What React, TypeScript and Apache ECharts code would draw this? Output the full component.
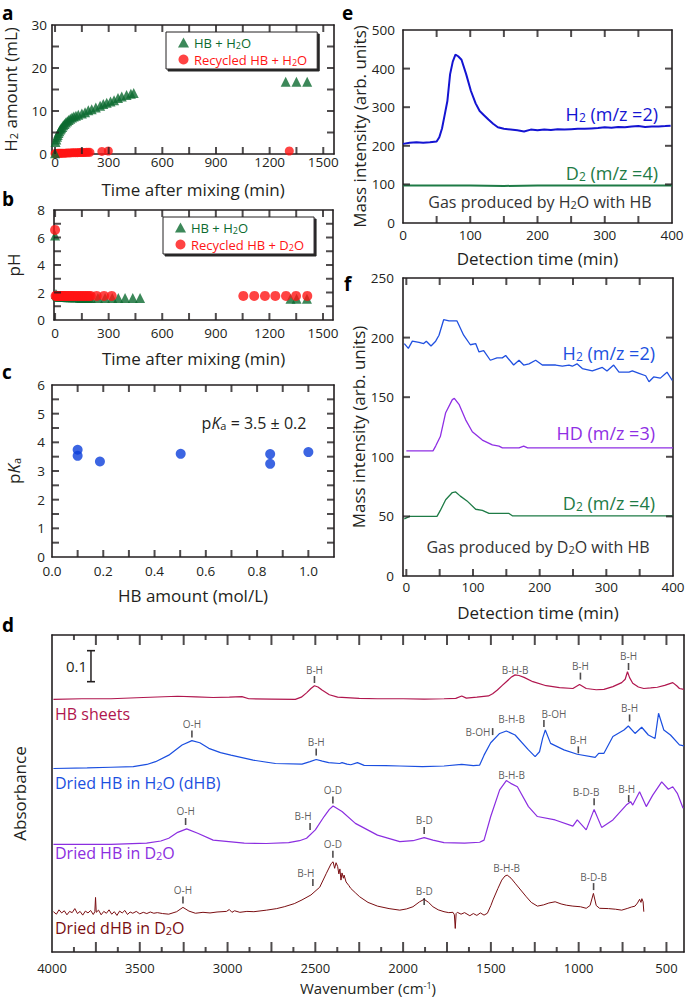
import React, { useEffect, useRef } from "react";
import * as echarts from "echarts";

const FONT = "'Open Sans', 'Noto Sans', sans-serif";
const INK = "#231f20";
const GREEN = "#0b6a2f";
const RED = "#ff1414";
const BLUE_C = "#0b3fdb";
const E_BLUE = "#1414d2";
const F_BLUE = "#2050e0";
const PURPLE = "#8f2fe4";
const LGREEN = "#1e7b46";
const D_SHEETS = "#b0164e";
const D_DHB = "#1b4fe0";
const D_D2O = "#8b2ee0";
const D_DHBD2O = "#7a0e12";

// ---- panel a ----
const aGreenTime = [0, 3, 7, 11, 15, 19, 24, 29, 34, 40, 46, 53, 60, 68, 76, 85, 95, 105, 117, 130, 150, 168, 186, 205, 228, 252, 270, 289, 310, 330, 352, 373, 400, 424, 440, 1290, 1350, 1410];
const aGreenH2 = [0.2, 2.8, 3.4, 4.0, 4.4, 4.9, 5.3, 5.7, 6.0, 6.3, 6.7, 7.0, 7.3, 7.6, 7.9, 8.2, 8.5, 8.7, 8.9, 9.1, 9.4, 9.7, 10.2, 10.4, 10.8, 11.2, 11.6, 11.9, 12.2, 12.5, 13.0, 13.4, 13.7, 14.0, 14.2, 16.8, 16.8, 16.8];
const aRedTime = [0, 5, 10, 16, 22, 28, 35, 42, 50, 58, 66, 75, 85, 95, 105, 115, 125, 135, 145, 155, 165, 175, 185, 195, 262, 298, 1310];
const aRedH2 = [0.1, 0.1, 0.1, 0.15, 0.15, 0.15, 0.2, 0.2, 0.2, 0.2, 0.25, 0.25, 0.25, 0.3, 0.3, 0.3, 0.3, 0.35, 0.35, 0.35, 0.35, 0.4, 0.4, 0.4, 0.6, 0.7, 0.7];
const timeTicks = [0, 150, 300, 450, 600, 750, 900, 1050, 1200, 1350, 1500];
const timeLabels = [0, 300, 600, 900, 1200, 1500];
const h2Ticks = [5, 10, 15, 20, 25];
const h2Labels = [0, 10, 20, 30];

// ---- panel b ----
const bGreenTime = [0, 5, 10, 15, 20, 25, 30, 40, 50, 60, 70, 80, 90, 100, 110, 120, 130, 140, 150, 160, 170, 180, 190, 200, 240, 280, 320, 354, 392, 435, 476, 1318, 1352, 1410];
const bGreenPh = [6.15, 1.9, 1.8, 1.75, 1.7, 1.7, 1.7, 1.7, 1.7, 1.7, 1.65, 1.65, 1.65, 1.65, 1.65, 1.65, 1.65, 1.6, 1.6, 1.6, 1.6, 1.6, 1.6, 1.6, 1.6, 1.6, 1.6, 1.6, 1.6, 1.6, 1.6, 1.55, 1.55, 1.55];
const bRedTime = [0, 3, 8, 13, 18, 23, 28, 34, 40, 47, 54, 61, 68, 76, 84, 92, 100, 110, 120, 130, 140, 150, 160, 170, 180, 190, 200, 233, 274, 317, 1054, 1115, 1175, 1233, 1293, 1349, 1412];
const bRedPh = [6.55, 1.75, 1.75, 1.75, 1.75, 1.75, 1.75, 1.75, 1.75, 1.75, 1.75, 1.75, 1.75, 1.75, 1.75, 1.75, 1.75, 1.75, 1.75, 1.75, 1.75, 1.75, 1.75, 1.75, 1.75, 1.75, 1.75, 1.75, 1.75, 1.75, 1.75, 1.75, 1.75, 1.75, 1.75, 1.75, 1.75];
const phTicks = [1, 2, 3, 4, 5, 6, 7];
const phLabels = [0, 2, 4, 6, 8];

// ---- panel c ----
const cHbAmount = [0.1, 0.1, 0.187, 0.502, 0.851, 0.851, 1.0];
const cPka = [3.74, 3.53, 3.33, 3.6, 3.59, 3.25, 3.66];
const cXTicks = [0.1, 0.2, 0.3, 0.4, 0.5, 0.6, 0.7, 0.8, 0.9, 1.0];
const cXLabels = [0, 0.2, 0.4, 0.6, 0.8, 1.0];
const cYTicks = [0.5, 1, 1.5, 2, 2.5, 3, 3.5, 4, 4.5, 5, 5.5];
const cYLabels = [0, 1, 2, 3, 4, 5, 6];

// ---- panel e ----
const eH2Time = [0, 10, 20, 30, 40, 50, 54, 58, 62, 66, 70, 74, 78, 82, 87, 94, 101, 108, 114, 120, 127, 134, 141, 150, 160, 170, 180, 190, 200, 210, 220, 230, 240, 250, 260, 270, 280, 290, 300, 310, 320, 330, 340, 350, 360, 370, 380, 390, 398];
const eH2 = [205, 208, 209, 208, 209, 211, 222, 245, 280, 316, 385, 418, 436, 432, 423, 385, 342, 310, 290, 280, 268, 257, 248, 244, 242, 240, 237, 242, 240, 242, 241, 243, 242, 243, 244, 244, 245, 246, 248, 247, 249, 248, 250, 251, 249, 250, 250, 251, 252];
const eD2Time = [0, 50, 100, 150, 200, 250, 300, 350, 400];
const eD2 = [97, 97, 97, 96, 97, 97, 97, 97, 97];
const detTicks = [50, 100, 150, 200, 250, 300, 350];
const detLabels = [0, 100, 200, 300, 400];
const eYTicks = [100, 200, 300, 400];
const eYLabels = [0, 100, 200, 300, 400, 500];

// ---- panel f ----
const fH2Time = [-3, 3, 9, 19, 26, 30, 37, 44, 49, 56, 64, 76, 86, 96, 104, 109, 116, 126, 136, 144, 149, 161, 169, 176, 184, 194, 204, 224, 234, 244, 249, 256, 264, 279, 294, 301, 311, 319, 334, 339, 349, 359, 364, 371, 381, 391, 399];
const fH2 = [195, 191, 197, 196, 195, 197, 193, 197, 202, 215, 214, 214, 202, 194, 195, 188, 189, 181, 183, 183, 185, 177, 181, 177, 178, 181, 177, 177, 176, 177, 176, 178, 174, 172, 175, 172, 177, 171, 171, 172, 170, 168, 163, 167, 166, 171, 164];
const fHDTime = [0, 40, 44, 51, 59, 69, 72, 79, 89, 99, 114, 129, 139, 144, 169, 176, 182, 250, 320, 400];
const fHD = [105, 105, 109, 117, 137, 148, 149, 144, 131, 121, 114, 110, 109, 107.5, 107.5, 109, 107.5, 107.5, 107.5, 107.5];
const fD2Time = [-3, 5, 46, 51, 59, 69, 74, 81, 91, 104, 114, 124, 154, 159, 250, 400];
const fD2 = [48, 50, 50, 55, 64, 70, 70.5, 67, 63, 56, 55, 52.5, 52.5, 50.5, 50.5, 50.5];
const fXTicks = [0, 50, 100, 150, 200, 250, 300, 350];
const fYTicks = [50, 100, 150, 200];
const fYLabels = [0, 50, 100, 150, 200, 250];

// ---- panel d (wavenumber, absorbance offset) ----
const dSheetsWn = [3992, 3830, 3664, 3480, 3284, 3180, 3082, 2990, 2918, 2879, 2750, 2614, 2580, 2550, 2525, 2505, 2485, 2462, 2420, 2373, 2250, 2146, 2000, 1880, 1767, 1700, 1666, 1640, 1580, 1514, 1490, 1463, 1435, 1412, 1385, 1362, 1340, 1311, 1261, 1185, 1109, 1033, 995, 957, 900, 856, 805, 755, 735, 722, 710, 692, 660, 629, 590, 552, 510, 464, 440, 426, 401];
const dSheetsA = [0.815, 0.817, 0.817, 0.821, 0.825, 0.823, 0.821, 0.822, 0.824, 0.817, 0.816, 0.815, 0.822, 0.836, 0.85, 0.859, 0.855, 0.845, 0.83, 0.822, 0.818, 0.817, 0.817, 0.816, 0.817, 0.818, 0.826, 0.819, 0.822, 0.826, 0.833, 0.845, 0.86, 0.872, 0.886, 0.894, 0.892, 0.886, 0.872, 0.859, 0.853, 0.85, 0.863, 0.85, 0.846, 0.847, 0.856, 0.869, 0.88, 0.904, 0.885, 0.867, 0.855, 0.85, 0.852, 0.854, 0.86, 0.869, 0.858, 0.85, 0.847];
const dDhbWn = [3992, 3800, 3664, 3537, 3460, 3410, 3335, 3259, 3203, 3158, 3107, 3040, 2981, 2854, 2727, 2576, 2530, 2495, 2460, 2424, 2361, 2348, 2320, 2298, 2260, 2222, 2100, 2019, 1890, 1767, 1666, 1600, 1564, 1539, 1501, 1450, 1412, 1362, 1286, 1248, 1223, 1205, 1190, 1160, 1084, 1008, 906, 886, 856, 805, 742, 717, 679, 641, 603, 565, 545, 515, 477, 426, 401];
const dDhbA = [0.592, 0.594, 0.596, 0.598, 0.605, 0.614, 0.635, 0.668, 0.682, 0.675, 0.657, 0.643, 0.635, 0.619, 0.608, 0.606, 0.614, 0.621, 0.616, 0.611, 0.608, 0.611, 0.606, 0.604, 0.611, 0.602, 0.601, 0.6, 0.598, 0.6, 0.605, 0.601, 0.603, 0.635, 0.675, 0.705, 0.713, 0.7, 0.652, 0.63, 0.646, 0.69, 0.716, 0.673, 0.652, 0.638, 0.628, 0.641, 0.641, 0.695, 0.716, 0.729, 0.705, 0.725, 0.7, 0.689, 0.77, 0.716, 0.7, 0.668, 0.665];
const dD2oWn = [3992, 3664, 3461, 3380, 3335, 3284, 3233, 3170, 3082, 2905, 2780, 2652, 2590, 2550, 2500, 2450, 2420, 2399, 2348, 2272, 2146, 2019, 1944, 1880, 1830, 1767, 1650, 1564, 1539, 1501, 1450, 1412, 1387, 1349, 1286, 1235, 1134, 1033, 1008, 957, 912, 869, 805, 729, 704, 692, 653, 615, 578, 527, 489, 464, 438, 405];
const dD2oA = [0.347, 0.347, 0.351, 0.358, 0.367, 0.386, 0.397, 0.383, 0.361, 0.351, 0.35, 0.353, 0.359, 0.367, 0.394, 0.437, 0.46, 0.471, 0.453, 0.415, 0.377, 0.356, 0.359, 0.369, 0.361, 0.353, 0.351, 0.354, 0.361, 0.437, 0.523, 0.553, 0.544, 0.533, 0.469, 0.437, 0.426, 0.406, 0.426, 0.394, 0.46, 0.402, 0.426, 0.474, 0.485, 0.474, 0.517, 0.469, 0.506, 0.549, 0.525, 0.533, 0.512, 0.464];
const dDhbD2oWn = [3992, 3975, 3960, 3945, 3930, 3915, 3900, 3885, 3870, 3855, 3840, 3825, 3810, 3795, 3780, 3765, 3756, 3752, 3748, 3735, 3720, 3705, 3690, 3675, 3660, 3645, 3630, 3615, 3600, 3585, 3570, 3555, 3540, 3520, 3500, 3480, 3460, 3440, 3420, 3400, 3370, 3335, 3290, 3254, 3220, 3183, 3140, 3100, 3060, 3006, 2990, 2975, 2960, 2930, 2890, 2850, 2778, 2720, 2677, 2620, 2576, 2525, 2475, 2437, 2410, 2399, 2390, 2382, 2373, 2366, 2360, 2354, 2348, 2340, 2336, 2325, 2310, 2298, 2270, 2247, 2200, 2146, 2080, 2019, 1980, 1944, 1906, 1880, 1855, 1830, 1800, 1767, 1740, 1716, 1708, 1703, 1698, 1691, 1670, 1650, 1620, 1600, 1580, 1560, 1539, 1520, 1500, 1488, 1460, 1438, 1420, 1407, 1385, 1362, 1330, 1298, 1270, 1235, 1200, 1170, 1134, 1100, 1070, 1033, 990, 957, 935, 916, 900, 881, 830, 790, 755, 720, 700, 679, 665, 653, 645, 640, 633, 629];
const dDhbD2oA = [0.13, 0.122, 0.136, 0.126, 0.133, 0.12, 0.131, 0.127, 0.14, 0.124, 0.131, 0.119, 0.132, 0.126, 0.134, 0.121, 0.13, 0.176, 0.128, 0.135, 0.12, 0.131, 0.125, 0.136, 0.122, 0.13, 0.118, 0.132, 0.126, 0.134, 0.121, 0.129, 0.125, 0.131, 0.123, 0.128, 0.124, 0.129, 0.125, 0.127, 0.124, 0.122, 0.13, 0.144, 0.132, 0.125, 0.128, 0.126, 0.129, 0.131, 0.137, 0.128, 0.133, 0.128, 0.131, 0.13, 0.135, 0.14, 0.146, 0.156, 0.168, 0.184, 0.209, 0.254, 0.285, 0.291, 0.27, 0.288, 0.276, 0.252, 0.268, 0.232, 0.255, 0.238, 0.248, 0.226, 0.215, 0.205, 0.19, 0.178, 0.16, 0.148, 0.14, 0.135, 0.139, 0.146, 0.162, 0.17, 0.16, 0.146, 0.136, 0.13, 0.127, 0.128, 0.12, 0.076, 0.124, 0.128, 0.122, 0.127, 0.117, 0.124, 0.118, 0.126, 0.119, 0.125, 0.15, 0.168, 0.205, 0.232, 0.245, 0.248, 0.238, 0.222, 0.2, 0.178, 0.16, 0.148, 0.152, 0.158, 0.162, 0.155, 0.151, 0.148, 0.146, 0.141, 0.15, 0.189, 0.15, 0.141, 0.14, 0.138, 0.135, 0.141, 0.145, 0.148, 0.158, 0.17, 0.16, 0.172, 0.162, 0.13];
// band assignments: [wavenumber, absorbance, text, has tick, label side, x shift]
const dBands: [number, number, string, number, string, number][] = [
  [2505, 0.879, "B-H", 1, "t", 0], [1362, 0.881, "B-H-B", 0, "t", 0], [990, 0.89, "B-H", 1, "t", 0], [716, 0.921, "B-H", 1, "t", 0],
  [3203, 0.703, "O-H", 1, "t", 0], [2495, 0.645, "B-H", 1, "t", 0], [1490, 0.711, "B-OH", 1, "l", 0], [1382, 0.723, "B-H-B", 0, "t", 0],
  [1198, 0.737, "B-OH", 1, "t", 10], [1002, 0.652, "B-H", 1, "t", 0], [710, 0.755, "B-H", 1, "t", 0],
  [1382, 0.545, "B-H-B", 0, "t", 0], [2400, 0.49, "O-D", 1, "t", 0], [912, 0.485, "B-D-B", 1, "t", -8], [715, 0.495, "B-H", 1, "t", -2],
  [3239, 0.421, "O-H", 1, "t", 0], [2530, 0.405, "B-H", 1, "t", -7], [1880, 0.392, "B-D", 1, "t", 0],
  [2400, 0.315, "O-D", 1, "t", 0], [2514, 0.224, "B-H", 1, "t", -7], [1410, 0.245, "B-H-B", 0, "t", 0], [915, 0.211, "B-D-B", 1, "t", 0],
  [3254, 0.168, "O-H", 1, "t", 0], [1880, 0.163, "B-D", 1, "t", 0],
];
const dScaleWn = [3778, 3778, 3778];
const dScaleA = [0.872, 0.922, 0.972];
const wnMajorTicks = [500, 750, 1000, 1250, 1500, 1750, 2000, 2250, 2500, 2750, 3000, 3250, 3500, 3750];
const wnMinorTicks = [625, 875, 1125, 1375, 1625, 1875, 2125, 2375, 2625, 2875, 3125, 3375, 3625, 3875];
const wnLabels = [500, 1000, 1500, 2000, 2500, 3000, 3500, 4000];

const zip = (xs: number[], ys: number[]) => xs.map((x, i) => [x, ys[i]]);
const richify = (s: string) => s.replace(/([HD])2/g, "$1{s|2}");

// layout
const GRID = {
  a: { left: 52, top: 25, width: 282, height: 129 },
  b: { left: 54, top: 210, width: 279, height: 110 },
  c: { left: 52, top: 385, width: 282, height: 172 },
  e: { left: 403, top: 30, width: 269, height: 193 },
  f: { left: 403, top: 278, width: 270, height: 298 },
  d: { left: 52, top: 635, width: 632, height: 317 },
};
const X = { a: [-17, 1560], b: [-6, 1556], c: [0, 1.1], e: [0, 400], f: [-5, 400], d: [400, 4000] };
const Y = { a: [0, 30], b: [0, 8], c: [0, 6], e: [0, 500], f: [0, 250], d: [0, 1.0226] };

const NAME_STYLE = (size: number) => ({
  fontFamily: FONT, fontSize: size, fontWeight: "normal", color: INK, verticalAlign: "middle",
  rich: {
    s: { fontSize: Math.round(size * 0.66), verticalAlign: "bottom", fontFamily: FONT, fontWeight: "normal" },
    i: { fontSize: size, fontStyle: "italic", fontFamily: FONT, fontWeight: "normal" },
    sup: { fontSize: Math.round(size * 0.6), verticalAlign: "top", fontFamily: FONT, fontWeight: "normal" },
  },
});

function axis(o: any) {
  const vertical = o.pos === "left" || o.pos === "right";
  return {
    gridIndex: o.gi, type: "value", min: o.min, max: o.max, inverse: !!o.inverse,
    position: o.pos, splitLine: { show: false }, silent: true,
    axisLine: { show: true, onZero: false, lineStyle: { color: INK, width: 1.6 } },
    axisTick: { show: false },
    axisLabel: o.labels
      ? { show: true, customValues: o.labels, formatter: o.fmt || ((v: number) => String(v)), margin: o.margin ?? 4, fontFamily: FONT, fontSize: o.labelSize ?? 13.5, color: INK }
      : { show: false },
    name: o.name, nameLocation: "middle", nameGap: o.nameGap, nameRotate: vertical ? 90 : 0,
    nameTextStyle: NAME_STYLE(o.nameSize ?? 17),
  };
}

// Inward frame ticks as small rect marks on the panel's own scales (centre kept inside the plot).
function tickSeries(xi: number, yi: number, g: any, xe: number[], ye: number[], spec: { b?: number[]; t?: number[]; l?: number[]; r?: number[] }, len = 7) {
  const ux = (xe[1] - xe[0]) / g.width;
  const uy = (ye[1] - ye[0]) / g.height;
  const h = len / 2;
  const w = 2;
  const data: any[] = [];
  (spec.b || []).forEach((v) => data.push({ value: [v, ye[0] + h * uy], symbolSize: [w, len] }));
  (spec.t || []).forEach((v) => data.push({ value: [v, ye[1] - h * uy], symbolSize: [w, len] }));
  (spec.l || []).forEach((v) => data.push({ value: [xe[0] + h * ux, v], symbolSize: [len, w] }));
  (spec.r || []).forEach((v) => data.push({ value: [xe[1] - h * ux, v], symbolSize: [len, w] }));
  return { type: "scatter", name: "frame ticks", xAxisIndex: xi, yAxisIndex: yi, symbol: "rect", silent: true, itemStyle: { color: INK }, z: 6, data };
}

function textEl(x: number, y: number, t: string, color: string, size: number, align = "left") {
  return {
    type: "text", x, y, silent: true,
    style: {
      text: t, fill: color, fontFamily: FONT, fontSize: size, align, verticalAlign: "middle",
      rich: { s: { fontSize: Math.round(size * 0.66), verticalAlign: "bottom", fontFamily: FONT }, i: { fontStyle: "italic", fontSize: size, fontFamily: FONT } },
    },
  };
}
function letterEl(x: number, y: number, t: string) {
  return { type: "text", x, y, silent: true, style: { text: t, fill: "#000", fontFamily: FONT, fontSize: 19, fontWeight: "bold", verticalAlign: "middle" } };
}

function buildOption() {
  const grids = [GRID.a, GRID.b, GRID.c, GRID.e, GRID.f, GRID.d].map((g) => ({ ...g, containLabel: false, outerBoundsMode: "none" }));

  const xs: any[] = [];
  const ys: any[] = [];
  const px = (o: any) => { xs.push(axis(o)); return xs.length - 1; };
  const py = (o: any) => { ys.push(axis(o)); return ys.length - 1; };

  const ax = px({ gi: 0, min: X.a[0], max: X.a[1], pos: "bottom", labels: timeLabels, margin: 1, name: "Time after mixing (min)", nameGap: 35 });
  px({ gi: 0, min: X.a[0], max: X.a[1], pos: "top" });
  const ay = py({ gi: 0, min: Y.a[0], max: Y.a[1], pos: "left", labels: h2Labels, margin: 5, name: "H{s|2} amount (mL)", nameGap: 42 });
  py({ gi: 0, min: Y.a[0], max: Y.a[1], pos: "right" });

  const bx = px({ gi: 1, min: X.b[0], max: X.b[1], pos: "bottom", labels: timeLabels, margin: 6, name: "Time after mixing (min)", nameGap: 38 });
  px({ gi: 1, min: X.b[0], max: X.b[1], pos: "top" });
  const by = py({ gi: 1, min: Y.b[0], max: Y.b[1], pos: "left", labels: phLabels, margin: 9, name: "pH", nameGap: 41 });
  py({ gi: 1, min: Y.b[0], max: Y.b[1], pos: "right" });

  const cx = px({ gi: 2, min: X.c[0], max: X.c[1], pos: "bottom", labels: cXLabels, fmt: (v: number) => v.toFixed(1), margin: 7, name: "HB amount (mol/L)", nameGap: 38 });
  px({ gi: 2, min: X.c[0], max: X.c[1], pos: "top" });
  const cy = py({ gi: 2, min: Y.c[0], max: Y.c[1], pos: "left", labels: cYLabels, margin: 7, name: "p{i|K}{s|a}", nameGap: 39 });
  py({ gi: 2, min: Y.c[0], max: Y.c[1], pos: "right" });

  const ex = px({ gi: 3, min: X.e[0], max: X.e[1], pos: "bottom", labels: detLabels, margin: 5, name: "Detection time (min)", nameGap: 35 });
  px({ gi: 3, min: X.e[0], max: X.e[1], pos: "top" });
  const ey = py({ gi: 3, min: Y.e[0], max: Y.e[1], pos: "left", labels: eYLabels, margin: 8, name: "Mass intensity (arb. units)", nameGap: 44 });
  py({ gi: 3, min: Y.e[0], max: Y.e[1], pos: "right" });

  const fx = px({ gi: 4, min: X.f[0], max: X.f[1], pos: "bottom", labels: detLabels, margin: 4, name: "Detection time (min)", nameGap: 36 });
  px({ gi: 4, min: X.f[0], max: X.f[1], pos: "top" });
  const fy = py({ gi: 4, min: Y.f[0], max: Y.f[1], pos: "left", labels: fYLabels, margin: 9, name: "Mass intensity (arb. units)", nameGap: 44 });
  py({ gi: 4, min: Y.f[0], max: Y.f[1], pos: "right" });

  const dx = px({ gi: 5, min: X.d[0], max: X.d[1], inverse: true, pos: "bottom", labels: wnLabels, margin: 9, labelSize: 13, name: "Wavenumber (cm{sup|-1})", nameGap: 36, nameSize: 15 });
  px({ gi: 5, min: X.d[0], max: X.d[1], inverse: true, pos: "top" });
  const dy = py({ gi: 5, min: Y.d[0], max: Y.d[1], pos: "left", name: "Absorbance", nameGap: 33 });
  py({ gi: 5, min: Y.d[0], max: Y.d[1], pos: "right" });

  const lineS = (name: string, xi: number, yi: number, data: number[][], color: string, width: number) => ({
    type: "line", name, xAxisIndex: xi, yAxisIndex: yi, data, showSymbol: false, symbol: "none", silent: true,
    lineStyle: { color, width }, itemStyle: { color },
  });

  const series: any[] = [
    tickSeries(ax, ay, GRID.a, X.a, Y.a, { b: timeTicks, t: timeTicks, l: h2Ticks, r: h2Ticks }),
    tickSeries(bx, by, GRID.b, X.b, Y.b, { b: timeTicks, t: timeTicks, l: phTicks, r: phTicks }),
    tickSeries(cx, cy, GRID.c, X.c, Y.c, { b: cXTicks, t: cXTicks, l: cYTicks, r: cYTicks }),
    tickSeries(ex, ey, GRID.e, X.e, Y.e, { b: detTicks, t: detTicks, l: eYTicks, r: eYTicks }),
    tickSeries(fx, fy, GRID.f, X.f, Y.f, { b: fXTicks, t: fXTicks, l: fYTicks, r: fYTicks }),
    tickSeries(dx, dy, GRID.d, X.d, Y.d, { b: wnMajorTicks, t: wnMajorTicks }, 10),
    tickSeries(dx, dy, GRID.d, X.d, Y.d, { b: wnMinorTicks, t: wnMinorTicks }, 5),
    { type: "scatter", name: "Recycled HB + H2O", xAxisIndex: ax, yAxisIndex: ay, symbol: "circle", symbolSize: 9, itemStyle: { color: RED }, data: zip(aRedTime, aRedH2), silent: true, z: 2 },
    { type: "scatter", name: "HB + H2O", xAxisIndex: ax, yAxisIndex: ay, symbol: "triangle", symbolSize: 10, itemStyle: { color: GREEN }, data: zip(aGreenTime, aGreenH2), silent: true, z: 3 },
    { type: "scatter", name: "HB + H2O", xAxisIndex: bx, yAxisIndex: by, symbol: "triangle", symbolSize: 10, itemStyle: { color: GREEN }, data: zip(bGreenTime, bGreenPh), silent: true, z: 2 },
    { type: "scatter", name: "Recycled HB + D2O", xAxisIndex: bx, yAxisIndex: by, symbol: "circle", symbolSize: 10, itemStyle: { color: RED }, data: zip(bRedTime, bRedPh), silent: true, z: 3 },
    { type: "scatter", name: "pKa", xAxisIndex: cx, yAxisIndex: cy, symbol: "circle", symbolSize: 10, itemStyle: { color: BLUE_C }, data: zip(cHbAmount, cPka), silent: true },
    lineS("e H2", ex, ey, zip(eH2Time, eH2), E_BLUE, 2),
    lineS("e D2", ex, ey, zip(eD2Time, eD2), LGREEN, 2),
    lineS("f H2", fx, fy, zip(fH2Time, fH2), F_BLUE, 1.3),
    lineS("f HD", fx, fy, zip(fHDTime, fHD), PURPLE, 1.3),
    lineS("f D2", fx, fy, zip(fD2Time, fD2), LGREEN, 1.3),
    lineS("HB sheets", dx, dy, zip(dSheetsWn, dSheetsA), D_SHEETS, 1.2),
    lineS("dHB", dx, dy, zip(dDhbWn, dDhbA), D_DHB, 1.2),
    lineS("HB D2O", dx, dy, zip(dD2oWn, dD2oA), D_D2O, 1.2),
    lineS("dHB D2O", dx, dy, zip(dDhbD2oWn, dDhbD2oA), D_DHBD2O, 1.0),
    {
      type: "line", name: "scale", xAxisIndex: dx, yAxisIndex: dy, symbol: "rect", showSymbol: true, silent: true,
      lineStyle: { color: INK, width: 1.5 }, itemStyle: { color: INK },
      data: zip(dScaleWn, dScaleA).map((v, i) => ({
        value: v, symbolSize: i === 1 ? 0 : [8, 1.6],
        label: i === 1 ? { show: true, position: "left", distance: 4, formatter: "0.1", fontFamily: FONT, fontSize: 15, color: INK } : { show: false },
      })),
    },
    {
      type: "scatter", name: "bands", xAxisIndex: dx, yAxisIndex: dy, symbol: "rect", silent: true, itemStyle: { color: INK }, z: 5,
      data: dBands.map(([w, a, t, tick, side, dxs]) => ({
        value: [w, a], symbolSize: tick ? [1.6, 7] : 0,
        label: {
          show: true, formatter: t, position: side === "l" ? "left" : "top", distance: tick ? 1.5 : 3.5, offset: [dxs, 0],
          fontFamily: FONT, fontSize: 10, color: "#333",
        },
      })),
    },
  ];

  const legendBase = {
    orient: "vertical", itemGap: 2, itemWidth: 11, itemHeight: 10, padding: [3, 10, 2, 12],
    borderColor: INK, borderWidth: 1, backgroundColor: "#fff", shadowColor: "rgba(0,0,0,0.85)", shadowOffsetX: 2, shadowOffsetY: 2, shadowBlur: 0,
    selectedMode: false, formatter: richify,
    textStyle: { fontFamily: FONT, fontSize: 13, lineHeight: 15, rich: { s: { fontSize: 9, lineHeight: 15, verticalAlign: "bottom", fontFamily: FONT } } },
  };

  return {
    animation: false,
    backgroundColor: "#fff",
    grid: grids,
    xAxis: xs,
    yAxis: ys,
    series,
    legend: [
      { ...legendBase, left: 166, top: 32, data: [{ name: "HB + H2O", textStyle: { color: GREEN } }, { name: "Recycled HB + H2O", textStyle: { color: RED } }] },
      { ...legendBase, left: 163, top: 217, data: [{ name: "HB + H2O", textStyle: { color: GREEN } }, { name: "Recycled HB + D2O", textStyle: { color: RED } }] },
    ],
    graphic: [
      letterEl(2, 13, "a"), letterEl(2, 199, "b"), letterEl(2, 372, "c"), letterEl(2, 625, "d"), letterEl(342, 13, "e"), letterEl(344, 284, "f"),
      textEl(254, 423, "p{i|K}{s|a} = 3.5 ± 0.2", INK, 16, "center"),
      textEl(658, 114, richify("H2 (m/z =2)"), E_BLUE, 18, "right"),
      textEl(658, 173, richify("D2 (m/z =4)"), LGREEN, 18, "right"),
      textEl(540, 202, richify("Gas produced by H2O with HB"), "#333", 16, "center"),
      textEl(655, 353, richify("H2 (m/z =2)"), F_BLUE, 18, "right"),
      textEl(655, 433, "HD (m/z =3)", PURPLE, 18, "right"),
      textEl(655, 503, richify("D2 (m/z =4)"), LGREEN, 18, "right"),
      textEl(538, 547, richify("Gas produced by D2O with HB"), "#333", 16, "center"),
      textEl(55, 714, "HB sheets", D_SHEETS, 16),
      textEl(55, 783, richify("Dried HB in H2O (dHB)"), D_DHB, 16),
      textEl(55, 853, richify("Dried HB in D2O"), D_D2O, 16),
      textEl(55, 928, richify("Dried dHB in D2O"), D_DHBD2O, 16),
    ],
  };
}

export default function App() {
  const ref = useRef<HTMLDivElement>(null);
  useEffect(() => {
    const chart = echarts.init(ref.current!, null, { renderer: "svg" });
    chart.setOption(buildOption() as any);
    return () => chart.dispose();
  }, []);
  return <div ref={ref} style={{ position: "absolute", left: 0, top: 0, width: 685, height: 997, background: "#fff" }} />;
}
